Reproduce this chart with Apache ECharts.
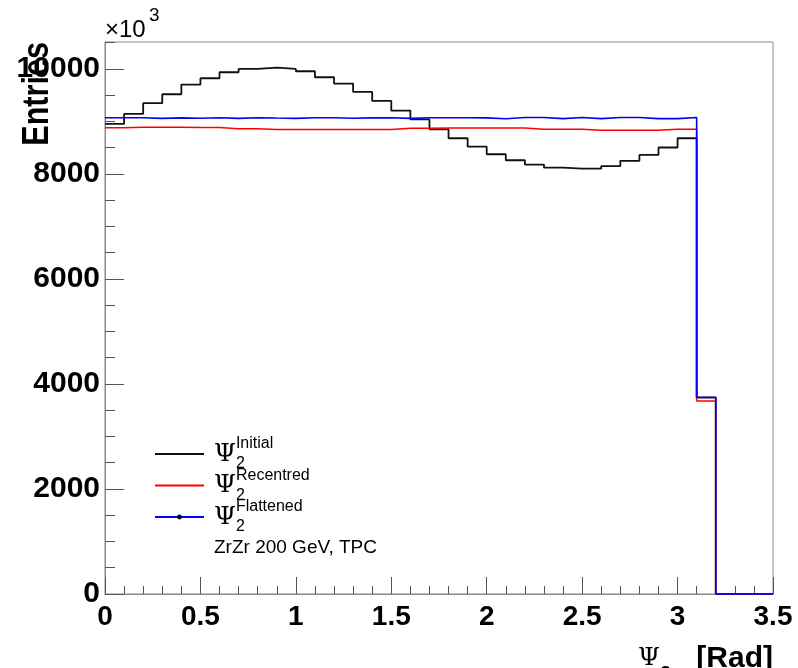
<!DOCTYPE html>
<html>
<head>
<meta charset="utf-8">
<script src="https://cdn.jsdelivr.net/npm/echarts@6/dist/echarts.min.js"></script>
<style>
  html, body { margin: 0; padding: 0; background: #fff; }
  #chart { width: 798px; height: 668px; }
</style>
</head>
<body>
<div id="chart"></div>
<script>
  // bin contents in units of 10^3 entries, 35 bins of 0.1 rad from 0 to 3.5
  const binWidth = 0.1
  const initialCounts = [8953, 9144, 9348, 9519, 9703, 9824, 9938, 10001, 10026, 10001,
    9957, 9843, 9722, 9563, 9392, 9207, 9040, 8852, 8681, 8521,
    8376, 8262, 8179, 8121, 8102, 8102, 8150, 8250, 8363, 8505,
    8681, 3740, 0, 0, 0]
  const recentredCounts = [8880, 8892, 8892, 8892, 8885, 8885, 8862, 8862, 8848, 8848,
    8848, 8848, 8848, 8848, 8848, 8870, 8870, 8875, 8875, 8875,
    8875, 8875, 8852, 8852, 8852, 8835, 8835, 8835, 8835, 8852,
    8852, 3677, 0, 0, 0]
  const flattenedCounts = [9070, 9072, 9060, 9068, 9062, 9070, 9060, 9072, 9065, 9060,
    9070, 9070, 9062, 9068, 9070, 9060, 9072, 9072, 9070, 9068,
    9052, 9075, 9075, 9055, 9075, 9055, 9075, 9075, 9055, 9055,
    9075, 3747, 0, 0, 0]
  const seriesNames = ['Initial', 'Recentred', 'Flattened']
  const xTicks = [0, 0.5, 1, 1.5, 2, 2.5, 3, 3.5]
  const yTicks = [0, 2000, 4000, 6000, 8000, 10000]

  const yMax = 10514

  /** histogram outline: one point per left bin edge plus the closing edge */
  function toSteps(counts) {
    const pts = counts.map((v, i) => [+(i * binWidth).toFixed(2), v])
    pts.push([+(counts.length * binWidth).toFixed(2), counts[counts.length - 1]])
    return pts
  }

  const sans = 'Liberation Sans'
  const greek = 'DejaVu Serif'
  const frameColor = '#8a8a8a'
  const tickColor = '#555'

  const chart = echarts.init(document.getElementById('chart'))
  chart.setOption({
    animation: false,
    backgroundColor: '#fff',
    grid: {
      left: 105, right: 25, top: 42, bottom: 74,
      show: true, borderColor: frameColor, borderWidth: 1
    },
    xAxis: [
      {
        type: 'value', min: xTicks[0], max: xTicks[xTicks.length - 1], interval: 0.5,
        axisLine: { show: true, lineStyle: { color: frameColor } },
        axisTick: { inside: true, length: 17, lineStyle: { color: tickColor } },
        axisLabel: { fontFamily: sans, fontSize: 28, fontWeight: 'bold', color: '#000', margin: 9 },
        splitLine: { show: false }
      },
      {
        type: 'value', min: 0, max: 3.5, interval: 0.1, position: 'bottom',
        axisLine: { show: false },
        axisTick: { inside: true, length: 8, lineStyle: { color: tickColor } },
        axisLabel: { show: false },
        splitLine: { show: false }
      }
    ],
    yAxis: [
      {
        type: 'value', min: yTicks[0], max: yMax, interval: 2000,
        axisLine: { show: true, lineStyle: { color: frameColor } },
        axisTick: { inside: true, length: 19, lineStyle: { color: tickColor } },
        axisLabel: {
          fontFamily: sans, fontSize: 30, fontWeight: 'bold', color: '#000', margin: 5, showMaxLabel: false,
          formatter: v => String(v)
        },
        splitLine: { show: false }
      },
      {
        type: 'value', min: 0, max: yMax, interval: 500, position: 'left',
        axisLine: { show: false },
        axisTick: { inside: true, length: 10, lineStyle: { color: tickColor } },
        axisLabel: { show: false },
        splitLine: { show: false }
      }
    ],
    legend: {
      orient: 'vertical', left: 154, top: 436, padding: 0,
      itemWidth: 49, itemHeight: 6, itemGap: -4.5,
      selectedMode: false,
      data: [
        { name: seriesNames[0], itemStyle: { opacity: 0 } },
        { name: seriesNames[1], itemStyle: { opacity: 0 } },
        { name: seriesNames[2] }
      ],
      formatter: name => '{psi|Ψ}{sub|2}{sup|' + name + '}',
      textStyle: {
        color: '#000',
        rich: {
          psi: { fontFamily: greek, fontSize: 25, lineHeight: 36, padding: [0, 0, 0, 5], verticalAlign: 'middle', color: '#000' },
          sub: { fontFamily: sans, fontSize: 16, lineHeight: 11, width: 0, verticalAlign: 'bottom', color: '#000' },
          sup: { fontFamily: sans, fontSize: 16, lineHeight: 14, verticalAlign: 'top', color: '#000' }
        }
      }
    },
    graphic: [
      { type: 'text', x: 105, y: 30, style: { text: '×10', font: '24px "Liberation Sans"', fill: '#000', align: 'left', verticalAlign: 'middle' } },
      { type: 'text', x: 149, y: 16, style: { text: '3', font: '19px "Liberation Sans"', fill: '#000', align: 'left', verticalAlign: 'middle' } },
      { type: 'text', x: 38.5, y: 42, rotation: Math.PI / 2, scaleX: 0.85, z: 100,
        style: { text: 'Entries', font: 'bold 36px "Liberation Sans"', fill: '#000', align: 'right', verticalAlign: 'middle' } },
      { type: 'text', x: 214, y: 548, style: { text: 'ZrZr 200 GeV, TPC', font: '19px "Liberation Sans"', fill: '#000', align: 'left', verticalAlign: 'middle' } },
      { type: 'text', x: 638, y: 658, style: { text: 'Ψ', font: '25px "DejaVu Serif"', fill: '#000', align: 'left', verticalAlign: 'middle' } },
      { type: 'text', x: 660, y: 674, style: { text: '2', font: 'bold 20px "Liberation Sans"', fill: '#000', align: 'left', verticalAlign: 'middle' } },
      { type: 'text', x: 773, y: 659, style: { text: '[Rad]', font: 'bold 30px "Liberation Sans"', fill: '#000', align: 'right', verticalAlign: 'middle' } }
    ],
    series: [
      {
        name: seriesNames[0], type: 'line', step: 'end', symbol: 'none', clip: false, z: 2,
        lineStyle: { color: '#111', width: 1.8 }, itemStyle: { color: '#111' },
        data: toSteps(initialCounts)
      },
      {
        name: seriesNames[1], type: 'line', step: 'end', symbol: 'none', clip: false, z: 3,
        lineStyle: { color: '#ff0000', width: 1.5 }, itemStyle: { color: '#ff0000' },
        data: toSteps(recentredCounts)
      },
      {
        name: seriesNames[2], type: 'line', step: 'end', symbol: 'circle', showSymbol: false, clip: false, z: 4,
        lineStyle: { color: '#0000ff', width: 1.6 }, itemStyle: { color: '#000' },
        data: toSteps(flattenedCounts)
      }
    ]
  })
</script>
</body>
</html>
